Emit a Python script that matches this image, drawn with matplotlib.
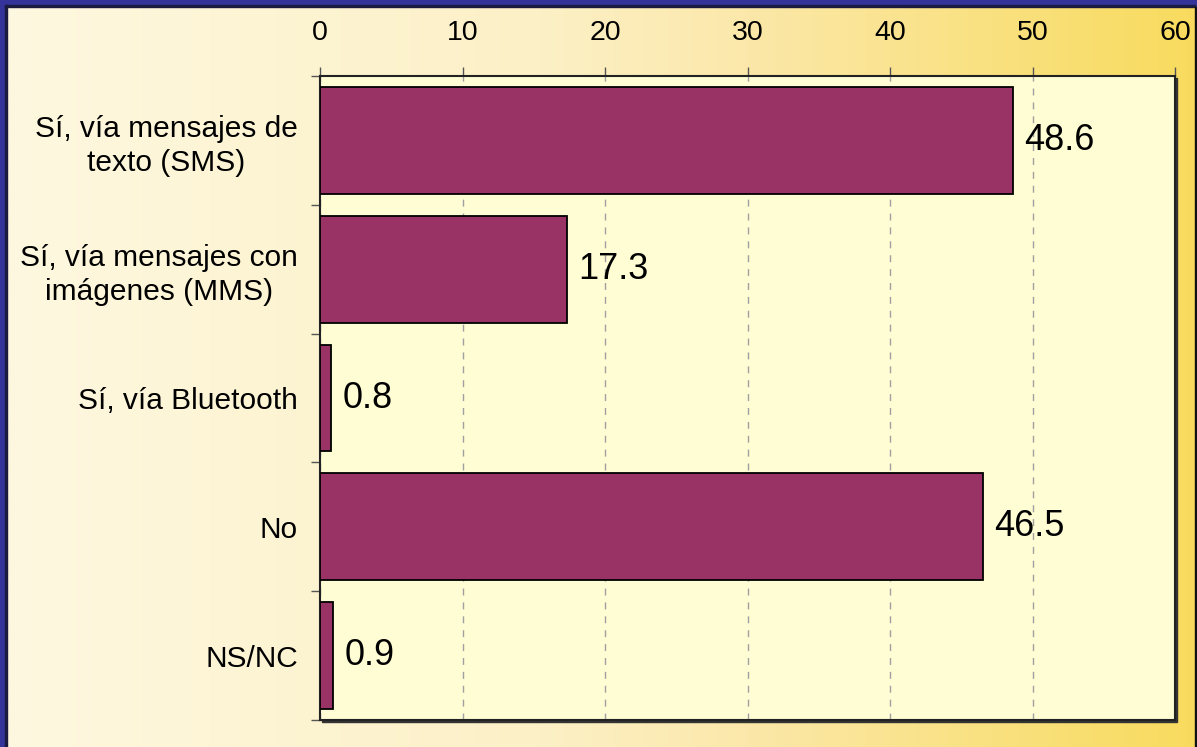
import numpy as np
import matplotlib.pyplot as plt
from matplotlib.colors import LinearSegmentedColormap
from matplotlib.patches import Rectangle

categorias = ["Sí, vía mensajes de\ntexto (SMS)",
              "Sí, vía mensajes con\nimágenes (MMS)",
              "Sí, vía Bluetooth",
              "No",
              "NS/NC"]
valores = [48.6, 17.3, 0.8, 46.5, 0.9]
ticks_x = [0, 10, 20, 30, 40, 50, 60]

plt.rcParams['font.family'] = ['Liberation Sans', 'DejaVu Sans']

W, H = 1197, 747
fig = plt.figure(figsize=(W / 100, H / 100), dpi=100, facecolor="#333399")

# panel de fondo con degradado
bg = fig.add_axes([7 / W, 0, 1188 / W, 740 / H], zorder=0)
bg.set_axis_off()
cmap = LinearSegmentedColormap.from_list(
    "fondo", [(0.0, "#FEF8E0"), (0.45, "#FCF0C6"), (0.62, "#FBE8AA"), (1.0, "#F8DB5E")])
bg.imshow(np.linspace(0, 1, 512).reshape(1, -1), cmap=cmap, aspect="auto",
          extent=[0, 1, 0, 1])
bg.set_xlim(0, 1)
bg.set_ylim(0, 1)
# linea oscura del borde
fig.patches.append(Rectangle((5 / W, 0), 2 / W, 742 / H, transform=fig.transFigure,
                             color="#1a1a40", zorder=0.5))
fig.patches.append(Rectangle((5 / W, 740 / H), 1190 / W, 2 / H, transform=fig.transFigure,
                             color="#1a1a40", zorder=0.5))
fig.patches.append(Rectangle((1195 / W, 0), 2 / W, 740 / H, transform=fig.transFigure,
                             color="#111111", zorder=0.5))

left, right, top, bottom = 320, 1175, 76, 720
pos = [left / W, 1 - bottom / H, (right - left) / W, (bottom - top) / H]

# sombra del area de trazado
fig.patches.append(Rectangle((pos[0] + 2 / W, pos[1] - 2 / H), pos[2], pos[3],
                             transform=fig.transFigure, color="#333333", zorder=1))

ax = fig.add_axes(pos, zorder=2)
ax.set_facecolor("#FFFDD4")

y = np.arange(len(categorias))
ax.barh(y, valores, height=0.83, color="#993366", edgecolor="black", linewidth=1.3, zorder=3)

for yi, v in zip(y, valores):
    ax.text(v + 0.8, yi, f"{v:.1f}", va="center", ha="left", fontsize=26, zorder=4)

ax.set_xlim(0, 60)
ax.set_ylim(len(categorias) - 0.5, -0.5)
ax.set_xticks(ticks_x)
ax.xaxis.tick_top()
ax.tick_params(axis="x", which="major", top=True, bottom=False, labeltop=True, labelbottom=False,
               length=6.5, width=1, color="#555555", pad=15, labelsize=20.5)
ax.set_yticks(y)
ax.set_yticklabels(categorias, fontsize=21.5, multialignment="center")
for lab in ax.get_yticklabels():
    lab.set_linespacing(1.25)
ax.tick_params(axis="y", which="major", length=0, pad=16)
ax.set_yticks(np.arange(-0.5, len(categorias)), minor=True)
ax.tick_params(axis="y", which="minor", length=6.5, width=1, color="#555555")

ax.grid(axis="x", linestyle=(0, (5, 5)), color="#A0A0A0", linewidth=1, zorder=1)
ax.set_axisbelow(True)
for s in ax.spines.values():
    s.set_color("#222222")
    s.set_linewidth(1.5)

fig.savefig("out.png", dpi=100, facecolor=fig.get_facecolor())
